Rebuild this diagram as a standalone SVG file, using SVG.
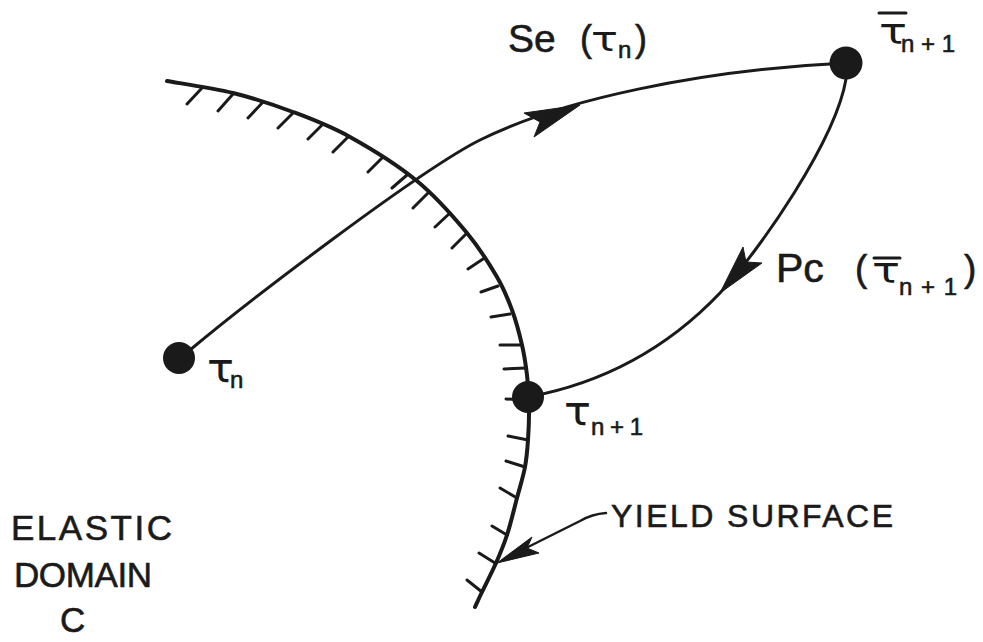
<svg xmlns="http://www.w3.org/2000/svg" width="983" height="642" viewBox="0 0 983 642">
<style>
.ln{fill:none;stroke:#1a1a1a;stroke-linecap:round;stroke-linejoin:round}
.ys{stroke-width:4}
.tk{stroke-width:3}
.cv{stroke-width:3}
.ah{fill:#1a1a1a;stroke:#1a1a1a;stroke-width:1;stroke-linejoin:round}
.dot{fill:#1a1a1a}
.t{font-family:"Liberation Sans","DejaVu Sans",sans-serif;fill:#1a1a1a;stroke:#1a1a1a;stroke-width:0.6}
.g{font-family:"DejaVu Sans","Liberation Sans",sans-serif;fill:#1a1a1a}
.bar{stroke:#1a1a1a;stroke-width:3;stroke-linecap:round}
</style>
<rect width="983" height="642" fill="#ffffff"/>

<g id="yield-surface">
<path class="ln ys" d="M167,81 C178,83 212,87.8 233,93 C254,98.2 273.5,104.7 293,112 C312.5,119.3 329.3,125.5 350,137 C370.7,148.5 397.5,165 417,181 C436.5,197 453.7,217 467,233 C480.3,249 489.5,264.2 497,277 C504.5,289.8 507.8,298.7 512,310 C516.2,321.3 519.5,334.2 522,345 C524.5,355.8 525.8,365 527,375 C528.2,385 528.8,394.2 529,405 C529.2,415.8 528.7,429.7 528,440 C527.3,450.3 526.8,457.3 525,467 C523.2,476.7 520,486.7 517,498 C514,509.3 510.5,524.2 507,535 C503.5,545.8 500.2,553.5 496,563 C491.8,572.5 485.5,584.7 482,592 C478.5,599.3 476.2,604.5 475,607"/>
<path class="ln tk" d="M202,88 L187,104 M233,94 L218,111 M263,102 L248,118 M293,113 L278,128 M322,125 L308,139 M348,137 L333,152 M382,158 L368,172 M407,175 L392,188 M428,193 L413,208 M450,213 L435,227 M467,233 L452,248 M483,259 L468,269 M498,286 L481,292 M510,314 L491,317 M520,345 L500,345 M526,368 L504,369 M526,400 L506,399 M528,440 L508,436 M525,467 L506,461 M517,498 L500,488 M507,535 L492,526 M495,563 L479,553 M482,592 L467,580"/>
</g>

<g id="connectors">
<path id="se" class="ln cv" d="M179,358 L190,350 C250,300 420,170 480,140 C560,100 700,70 846,63"/>
<path class="ah" d="M580,105 L524,113 L540,122 L534,137 Z"/>
<path id="pc" class="ln cv" d="M846,63 L846,79 C836,140 760,250 720,293 C680,335 620,380 528,397"/>
<path class="ah" d="M720,293 L743,247 L746,262 L762,263 Z"/>
<path id="leader" class="ln" stroke-width="2.5" d="M526,548 L580,521 Q592,514 606,513"/>
<path class="ah" d="M497,563 L532,537 L527,548 L539,553 Z"/>
</g>

<g id="node-tau-n">
<circle class="dot" cx="179" cy="358" r="16"/>
<text class="g" x="207" y="382" font-size="40" textLength="27" lengthAdjust="spacingAndGlyphs">τ</text>
<text class="t" x="230" y="388" font-size="24">n</text>
</g>

<g id="node-tau-bar-n1">
<circle class="dot" cx="846" cy="63" r="16.5"/>
<line class="bar" x1="879" y1="13" x2="906" y2="13"/>
<text class="g" x="879" y="44" font-size="36" textLength="28" lengthAdjust="spacingAndGlyphs">τ</text>
<text class="t" x="901" y="52" font-size="24" textLength="54" lengthAdjust="spacing">n+1</text>
</g>

<g id="node-tau-n1">
<circle class="dot" cx="528" cy="397" r="16"/>
<text class="g" x="564" y="425" font-size="40" textLength="27" lengthAdjust="spacingAndGlyphs">τ</text>
<text class="t" x="591" y="435" font-size="24" textLength="52" lengthAdjust="spacing">n+1</text>
</g>

<g id="label-se">
<text class="t" x="508" y="52" font-size="39">Se</text>
<text class="t" x="580" y="51" font-size="36">(</text>
<text class="g" x="591" y="51" font-size="34" textLength="27" lengthAdjust="spacingAndGlyphs">τ</text>
<text class="t" x="618" y="58" font-size="24">n</text>
<text class="t" x="635" y="51" font-size="36">)</text>
</g>

<g id="label-pc">
<text class="t" x="776" y="282" font-size="41">Pc</text>
<text class="t" x="855" y="281" font-size="37">(</text>
<line class="bar" x1="874" y1="258" x2="900" y2="258"/>
<text class="g" x="872" y="283" font-size="36" textLength="28" lengthAdjust="spacingAndGlyphs">τ</text>
<text class="t" x="899" y="295" font-size="24" textLength="58" lengthAdjust="spacing">n+1</text>
<text class="t" x="964" y="281" font-size="37">)</text>
</g>

<g id="label-yield">
<text class="t" x="611" y="527" font-size="32" textLength="282" lengthAdjust="spacing">YIELD SURFACE</text>
</g>

<g id="label-elastic">
<text class="t" x="11" y="540" font-size="35" textLength="161" lengthAdjust="spacing">ELASTIC</text>
<text class="t" x="14" y="587" font-size="35" textLength="138" lengthAdjust="spacing">DOMAIN</text>
<text class="t" x="60" y="632" font-size="35">C</text>
</g>
</svg>
